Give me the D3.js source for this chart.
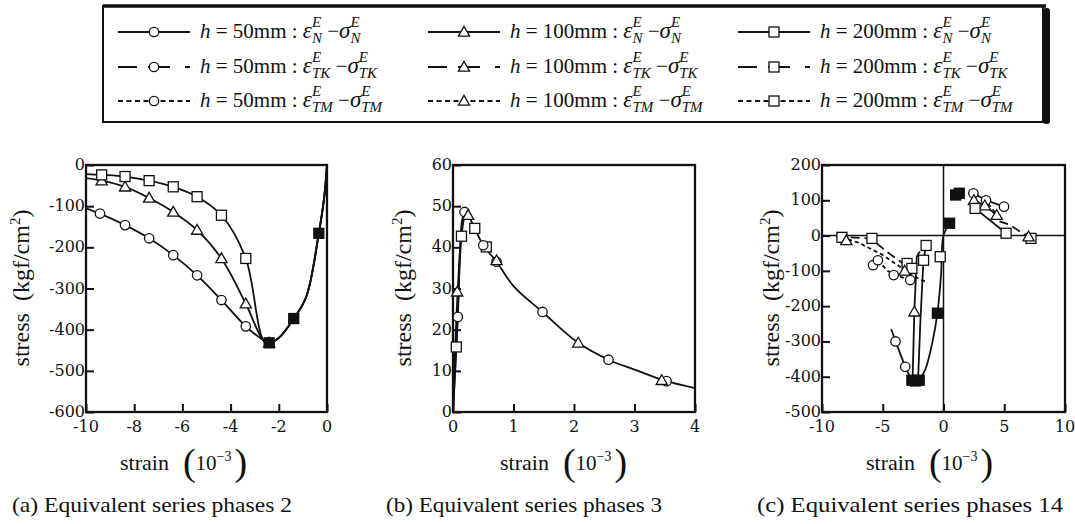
<!DOCTYPE html>
<html>
<head>
<meta charset="utf-8">
<script src="https://cdn.jsdelivr.net/npm/d3@7"></script>
<style>
  body { margin: 0; background: #fff; }
  svg { display: block; }
  svg text { font-family: "Liberation Serif", "Times New Roman", Times, serif; white-space: pre; fill: #111; }
  svg text.tick { font-family: "DejaVu Serif", serif; }
</style>
</head>
<body>
<svg id="chart" width="1075" height="524"></svg>
<script>
const svg = d3.select("#chart");

// ---- panel (a): equivalent series phases 2 ----
const a200X = [-10, -9.35, -8.38, -7.38, -6.38, -5.39, -4.38, -3.37, -2.65, -2.4, -2.0, -1.38, -0.86, -0.34, -0.12, 0];
const a200Y = [-22, -24, -28, -38, -53, -77, -122, -227, -425, -432, -420, -373, -320, -166, -80, 0];
const a100X = [-10, -9.35, -8.38, -7.38, -6.38, -5.39, -4.38, -3.37, -2.65, -2.4];
const a100Y = [-32, -38, -53, -80, -114, -158, -227, -337, -425, -432];
const a50X = [-10, -9.42, -8.38, -7.38, -6.38, -5.39, -4.38, -3.37, -2.65, -2.4];
const a50Y = [-105, -118, -146, -178, -219, -268, -328, -392, -425, -432];
const aMarkIdx200 = [1, 2, 3, 4, 5, 6, 7, 9, 11, 13];
const aMarkIdx = [1, 2, 3, 4, 5, 6, 7, 9];

// ---- panel (b): equivalent series phases 3 ----
const bX = [0, 0.2, 0.25, 0.36, 0.5, 0.72, 1.0, 1.48, 2.07, 2.57, 3.0, 3.5, 4.0];
const bY = [0, 48.6, 47.8, 44.6, 40.5, 36.5, 30.6, 24.3, 16.8, 12.7, 10.3, 7.6, 5.8];
const bRise200X = [0, 0.055, 0.14, 0.2];
const bRise200Y = [0, 15.8, 42.7, 48.6];
const bRise50X = [0, 0.08, 0.15, 0.2];
const bRise50Y = [0, 23.1, 46.5, 48.6];
const bSqX = [0.055, 0.14, 0.36, 0.55];
const bSqY = [15.8, 42.7, 44.6, 40.1];
const bCirX = [0.08, 0.19, 0.5, 0.72, 1.48, 2.57, 3.53];
const bCirY = [23.1, 48.6, 40.5, 36.5, 24.3, 12.7, 7.5];
const bTriX = [0.07, 0.25, 0.72, 2.07, 3.45];
const bTriY = [29.2, 47.8, 36.8, 16.8, 7.7];

// ---- panel (c): equivalent series phases 14 ----
// solid (N) branches
const c50NX = [-4.3, -3.95, -3.15, -2.6, -2.35];
const c50NY = [-265, -300, -372, -412, -415];
const c100NX = [-2.55, -2.4, -2.2, -1.95];
const c100NY = [-415, -216, -60, -45];
const c200NX = [-2.1, -1.9, -1.65, -1.43];
const c200NY = [-415, -240, -70, -28];
const cRightNX = [-2.0, -1.5, -0.9, -0.5, -0.2, 0, 0.5];
const cRightNY = [-410, -380, -300, -220, -110, 0, 35];
const cTopNX = [1.0, 1.3];
const cTopNY = [115, 120];
const cPos50X = [2.46, 3.5, 4.98];
const cPos50Y = [120, 100, 82];
const cPos100X = [2.5, 3.4, 4.38];
const cPos100Y = [100, 85, 58];
const cPos200X = [2.6, 5.15];
const cPos200Y = [77, 6.6];
// dashed (TK / TM) branches
const cTK200X = [-8.8, -6.0, -4.5, -3.3, -2.7];
const cTK200Y = [-3, -8, -50, -80, -95];
const cTM200X = [-8.4, -7.0, -5.0, -3.3, -2.5, -1.5];
const cTM200Y = [-5, -20, -55, -95, -115, -130];
const cTM50X = [-5.8, -5.4, -4.6, -4.0, -2.7];
const cTM50Y = [-84, -70, -100, -112, -126];
const cTKPosX = [4.6, 5.5, 7.1];
const cTKPosY = [40, 30, -8];
const cTMPosX = [3.3, 4.4];
const cTMPosY = [105, 60];

const xTicksA = [-10, -8, -6, -4, -2, 0];
const yTicksA = [0, -100, -200, -300, -400, -500, -600];
const xTicksB = [0, 1, 2, 3, 4];
const yTicksB = [0, 10, 20, 30, 40, 50, 60];
const xTicksC = [-10, -5, 0, 5, 10];
const yTicksC = [200, 100, 0, -100, -200, -300, -400, -500];

const captions = ["(a) Equivalent series phases 2", "(b) Equivalent series phases 3", "(c) Equivalent series phases 14"];

const legendH = ["50", "100", "200"];
const legendShape = ["circle", "triangle", "square"];
const legendSub = ["N", "TK", "TM"];

const toPts = (xs, ys) => xs.map((x, i) => [x, ys[i]]);

function marker(g, shape, x, y, filled) {
  const fill = filled ? "#111" : "#fff";
  if (shape === "circle") {
    g.append("circle").attr("cx", x).attr("cy", y).attr("r", 4.7)
      .attr("fill", fill).attr("stroke", "#111").attr("stroke-width", 1.3);
  } else if (shape === "square") {
    g.append("rect").attr("x", x - 5).attr("y", y - 5).attr("width", 10).attr("height", 10)
      .attr("fill", fill).attr("stroke", "#111").attr("stroke-width", 1.3);
  } else {
    const s = 5.6;
    g.append("path").attr("d", `M${x},${y - s}L${x + s},${y + s * 0.75}L${x - s},${y + s * 0.75}Z`)
      .attr("fill", fill).attr("stroke", "#111").attr("stroke-width", 1.3);
  }
}

function panel(x0, x1, y0, y1, xDom, yDom, xTicks, yTicks) {
  const x = d3.scaleLinear().domain(xDom).range([x0, x1]);
  const y = d3.scaleLinear().domain(yDom).range([y1, y0]);
  const g = svg.append("g");
  const clip = "clip" + Math.round(x0);
  svg.append("clipPath").attr("id", clip).append("rect")
    .attr("x", x0).attr("y", y0).attr("width", x1 - x0).attr("height", y1 - y0);
  // inward ticks on left and bottom
  const yAxis = g.append("g").attr("transform", `translate(${x0},0)`)
    .call(d3.axisRight(y).tickValues(yTicks).tickSize(8).tickFormat(""));
  const xAxis = g.append("g").attr("transform", `translate(0,${y1})`)
    .call(d3.axisTop(x).tickValues(xTicks).tickSize(8).tickFormat(""));
  [yAxis, xAxis].forEach(ax => {
    ax.select(".domain").remove();
    ax.selectAll("line").attr("stroke", "#111").attr("stroke-width", 2);
  });
  g.selectAll(".ylab").data(yTicks).join("text").attr("class", "tick")
    .attr("x", x0 - 1).attr("y", d => y(d) + 5)
    .attr("text-anchor", "end").attr("font-size", 16)
    .text(d => d);
  g.selectAll(".xlab").data(xTicks).join("text").attr("class", "tick")
    .attr("x", d => x(d)).attr("y", y1 + 20)
    .attr("text-anchor", "middle").attr("font-size", 16)
    .text(d => d);
  const plot = g.append("g").attr("clip-path", `url(#${clip})`);
  const frame = () => g.append("rect").attr("x", x0).attr("y", y0)
    .attr("width", x1 - x0).attr("height", y1 - y0)
    .attr("fill", "none").attr("stroke", "#111").attr("stroke-width", 2.3);
  return { x, y, g, plot, frame };
}

function curve(p, pts, dash, smooth) {
  const line = d3.line().x(d => p.x(d[0])).y(d => p.y(d[1]))
    .curve(smooth ? d3.curveCatmullRom.alpha(0.5) : d3.curveLinear);
  p.plot.append("path").attr("d", line(pts)).attr("fill", "none")
    .attr("stroke", "#111").attr("stroke-width", 1.8)
    .attr("stroke-dasharray", dash || null);
}

function marks(p, shape, xs, ys, filled) {
  xs.forEach((v, i) => marker(p.g, shape, p.x(v), p.y(ys[i]), filled));
}

function yLabel(xc, yc) {
  const t = svg.append("text")
    .attr("transform", `translate(${xc},${yc}) rotate(-90)`)
    .attr("text-anchor", "middle").attr("font-size", 24);
  t.append("tspan").text("stress  (kgf/cm");
  t.append("tspan").attr("font-size", 15).attr("dy", -9).text("2");
  t.append("tspan").attr("dy", 9).text(")");
}

function xLabel(xl, yb) {
  const t = svg.append("text").attr("x", xl).attr("y", yb).attr("font-size", 22);
  t.append("tspan").text("strain");
  t.append("tspan").attr("dx", 14).attr("font-size", 38).attr("dy", 5).text("(");
  t.append("tspan").attr("font-size", 21).attr("dy", -5).text("10");
  t.append("tspan").attr("font-size", 14).attr("dy", -9).text("\u22123");
  t.append("tspan").attr("font-size", 38).attr("dy", 14).attr("dx", 3).text(")");
}

// ---- panel a ----
const pa = panel(86, 327, 165, 412, [-10, 0], [-600, 0], xTicksA, yTicksA);
curve(pa, toPts(a200X, a200Y), null, true);
curve(pa, toPts(a100X, a100Y).concat(toPts(a200X, a200Y).slice(10)), null, true);
curve(pa, toPts(a50X, a50Y).concat(toPts(a200X, a200Y).slice(10)), null, true);
pa.frame();
marks(pa, "circle", aMarkIdx.map(i => a50X[i]), aMarkIdx.map(i => a50Y[i]));
marks(pa, "triangle", aMarkIdx.map(i => a100X[i]), aMarkIdx.map(i => a100Y[i]));
marks(pa, "square", aMarkIdx200.slice(0, 7).map(i => a200X[i]), aMarkIdx200.slice(0, 7).map(i => a200Y[i]));
marks(pa, "square", aMarkIdx200.slice(7).map(i => a200X[i]), aMarkIdx200.slice(7).map(i => a200Y[i]), true);

// ---- panel b ----
const pb = panel(453, 695, 165, 412, [0, 4], [0, 60], xTicksB, yTicksB);
curve(pb, toPts(bX, bY), null, true);
curve(pb, toPts(bRise200X, bRise200Y), null, true);
curve(pb, toPts(bRise50X, bRise50Y), null, true);
pb.frame();
marks(pb, "square", bSqX, bSqY);
marks(pb, "circle", bCirX, bCirY);
marks(pb, "triangle", bTriX, bTriY);

// ---- panel c ----
const pc = panel(822, 1065, 165, 412, [-10, 10], [-500, 200], xTicksC, yTicksC);
pc.plot.append("line").attr("x1", pc.x(0)).attr("x2", pc.x(0)).attr("y1", 165).attr("y2", 412)
  .attr("stroke", "#111").attr("stroke-width", 1.5);
pc.plot.append("line").attr("x1", 822).attr("x2", 1065).attr("y1", pc.y(0)).attr("y2", pc.y(0))
  .attr("stroke", "#111").attr("stroke-width", 1.5);
curve(pc, toPts(c50NX, c50NY), null, false);
curve(pc, toPts(c100NX, c100NY), null, false);
curve(pc, toPts(c200NX, c200NY), null, false);
curve(pc, toPts(cRightNX, cRightNY), null, true);
curve(pc, toPts(cPos50X, cPos50Y), null, false);
curve(pc, toPts(cPos100X, cPos100Y), null, false);
curve(pc, toPts(cPos200X, cPos200Y), null, false);
curve(pc, toPts(cTK200X, cTK200Y), "9,5", false);
curve(pc, toPts(cTM200X, cTM200Y), "4,3", false);
curve(pc, toPts(cTM50X, cTM50Y), "4,3", false);
curve(pc, toPts(cTKPosX, cTKPosY), "9,5", false);
curve(pc, toPts(cTMPosX, cTMPosY), "4,3", false);
pc.frame();
marks(pc, "circle", c50NX.slice(1, 4), c50NY.slice(1, 4));
marks(pc, "square", [-2.6, -2.3, -2.0], [-410, -412, -410], true);
marks(pc, "triangle", [c100NX[1]], [c100NY[1]]);
marks(pc, "square", [-1.43, -1.64], [-28, -70]);
marks(pc, "square", [-0.5, 0.5], [-220, 35], true);
marks(pc, "square", cTopNX, cTopNY, true);
marks(pc, "circle", cPos50X, cPos50Y);
marks(pc, "triangle", cPos100X, cPos100Y);
marks(pc, "square", cPos200X, cPos200Y);
marks(pc, "square", [-8.36, -5.89, -3.0, -2.6, -0.27, 7.2], [-5, -8, -79, -93, -60, -8]);
marks(pc, "triangle", [-8.0, -3.2, 7.0], [-14, -100, -3]);
marks(pc, "circle", [-5.8, -5.4, -4.1, -2.74], [-84, -70, -112, -126]);

// ---- axis labels ----
yLabel(29, 288);
yLabel(411, 288);
yLabel(779, 288);
xLabel(120, 470);
xLabel(500, 470);
xLabel(866, 470);

// ---- captions ----
[[12, 280], [386, 276], [757, 306]].forEach((c, i) => {
  svg.append("text").attr("x", c[0]).attr("y", 512)
    .attr("font-size", 22)
    .attr("textLength", c[1]).attr("lengthAdjust", "spacingAndGlyphs")
    .text(captions[i]);
});

// ---- legend ----
const lg = svg.append("g");
lg.append("rect").attr("x", 1043).attr("y", 8).attr("width", 7).attr("height", 116).attr("rx", 3).attr("fill", "#111");
lg.append("rect").attr("x", 103).attr("y", 6).attr("width", 940).attr("height", 116)
  .attr("fill", "#fff").attr("stroke", "#111").attr("stroke-width", 2);
lg.append("line").attr("x1", 103).attr("x2", 1046).attr("y1", 6).attr("y2", 6)
  .attr("stroke", "#111").attr("stroke-width", 3.5);

const colX = [118, 428, 738];
const rowY = [32, 67, 101];
const legendDash = [null, "19,11,22,15,5", "5,3.5"];

function richText(x, y, parts) {
  let cx = x;
  parts.forEach(p => {
    const t = lg.append("text").attr("x", cx).attr("y", y + (p.dy || 0))
      .attr("font-size", p.size || 21)
      .attr("font-style", p.italic ? "italic" : "normal").text(p.t);
    const w = t.node().getComputedTextLength();
    if (p.stack) {
      const t2 = lg.append("text").attr("x", cx).attr("y", y + p.stack.dy)
        .attr("font-size", p.stack.size)
        .attr("font-style", "italic").text(p.stack.t);
      cx += Math.max(w, t2.node().getComputedTextLength());
    } else {
      cx += w;
    }
  });
}

legendSub.forEach((sub, r) => {
  legendH.forEach((h, c) => {
    const lx = colX[c], ly = rowY[r];
    lg.append("line").attr("x1", lx).attr("x2", lx + 72).attr("y1", ly).attr("y2", ly)
      .attr("stroke", "#111").attr("stroke-width", 1.8)
      .attr("stroke-dasharray", legendDash[r]);
    marker(lg, legendShape[c], lx + 36, ly, false);
    richText(lx + 82, ly + 6, [
      { t: "h", italic: true },
      { t: " = " + h + "mm : " },
      { t: "\u03b5", italic: true, size: 23 },
      { t: "E", italic: true, size: 15, dy: -11, stack: { t: sub, size: 15, dy: 5 } },
      { t: " \u2212" },
      { t: "\u03c3", italic: true, size: 23 },
      { t: "E", italic: true, size: 15, dy: -11, stack: { t: sub, size: 15, dy: 5 } }
    ]);
  });
});
</script>
</body>
</html>
